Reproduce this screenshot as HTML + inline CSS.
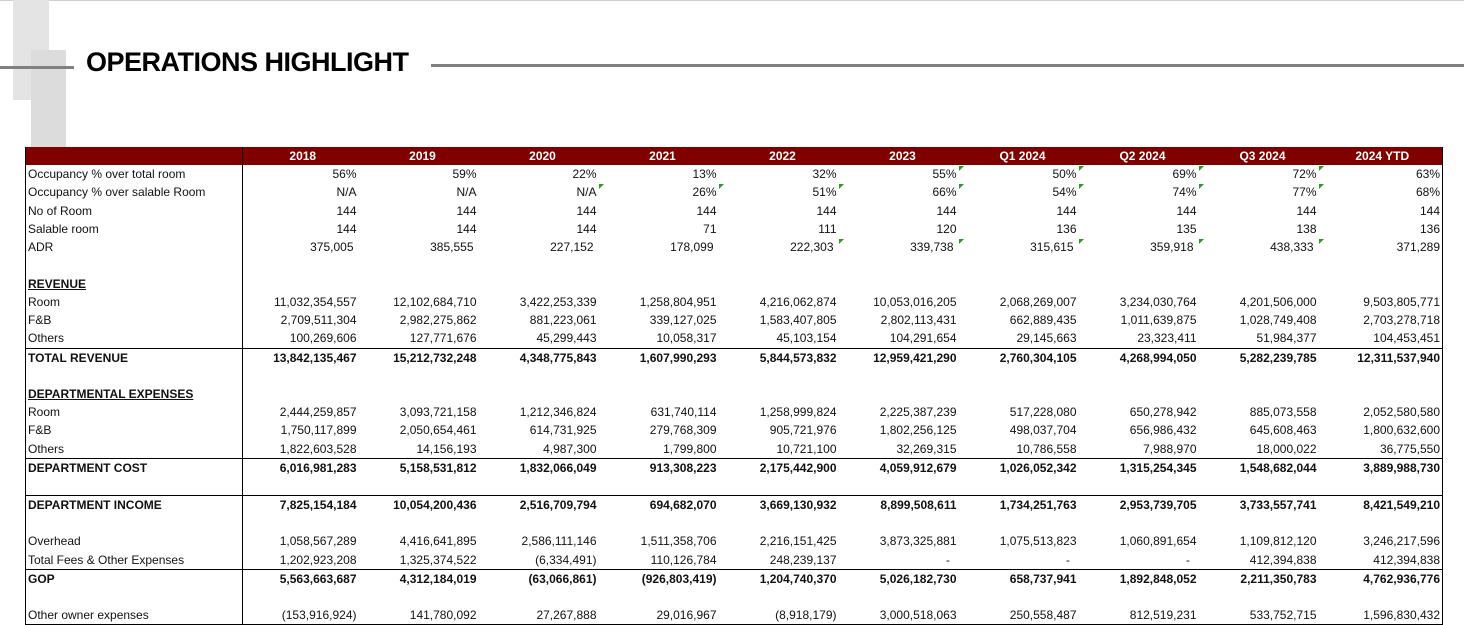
<!DOCTYPE html>
<html><head><meta charset="utf-8"><style>
body{margin:0;width:1464px;height:625px;overflow:hidden;background:#fff;font-family:"Liberation Sans",Arial,sans-serif;position:relative}
.g{position:absolute;background:#e4e4e4}
.ln{position:absolute;background:#808080}
h1{position:absolute;left:86px;top:47px;margin:0;font-size:27px;font-weight:bold;letter-spacing:-0.5px;color:#000}
table{position:absolute;left:25px;top:147px;border-collapse:collapse;table-layout:fixed;width:1418px;font-size:12px}
td{height:18.25px;padding:0 6px 0 0;text-align:right;white-space:nowrap;line-height:14px;vertical-align:middle;position:relative;color:#111}
td:first-child{text-align:left;padding-left:2px;border-left:1.5px solid #000;border-right:1.5px solid #000}
td:last-child{border-right:1.5px solid #000;padding-right:2px}
tr.h td{background:#800000;color:#fff;font-weight:bold;text-align:center;height:18px;padding:0}
tr.h td:first-child{border-right:1.5px solid #000}
tr.b td{font-weight:bold}
tr.t td{border-top:1.5px solid #000;height:18px}
tr.last td{border-bottom:1.5px solid #000}
u{font-weight:bold}
.tr::after{content:"";position:absolute;right:-1px;top:1px;border-top:5px solid #2a9a2a;border-right:5px solid transparent}
</style></head><body>
<div style="position:absolute;left:0;top:0;width:1464px;height:1px;background:#d0d0d0"></div>
<div class="g" style="left:13px;top:0;width:36px;height:100px"></div>
<div class="g" style="left:31px;top:50px;width:35px;height:97px;background:#dcdcdc"></div>
<div class="ln" style="left:0;top:66px;width:74px;height:3px"></div>
<div class="ln" style="left:431px;top:64px;width:1033px;height:3px"></div>
<h1>OPERATIONS HIGHLIGHT</h1>
<table>
<colgroup><col style="width:217px"><col span="10" style="width:120px"></colgroup>
<tr class="h"><td></td><td>2018</td><td>2019</td><td>2020</td><td>2021</td><td>2022</td><td>2023</td><td>Q1 2024</td><td>Q2 2024</td><td>Q3 2024</td><td>2024 YTD</td></tr>
<tr><td>Occupancy % over total room</td><td>56%</td><td>59%</td><td>22%</td><td>13%</td><td>32%</td><td class="tr">55%</td><td class="tr">50%</td><td class="tr">69%</td><td class="tr">72%</td><td>63%</td></tr>
<tr><td>Occupancy % over salable Room</td><td>N/A</td><td>N/A</td><td class="tr">N/A</td><td class="tr">26%</td><td class="tr">51%</td><td class="tr">66%</td><td class="tr">54%</td><td class="tr">74%</td><td class="tr">77%</td><td>68%</td></tr>
<tr><td>No of Room</td><td>144</td><td>144</td><td>144</td><td>144</td><td>144</td><td>144</td><td>144</td><td>144</td><td>144</td><td>144</td></tr>
<tr><td>Salable room</td><td>144</td><td>144</td><td>144</td><td>71</td><td>111</td><td>120</td><td>136</td><td>135</td><td>138</td><td>136</td></tr>
<tr><td>ADR</td><td style="padding-right:9px">375,005</td><td style="padding-right:9px">385,555</td><td style="padding-right:9px">227,152</td><td style="padding-right:9px">178,099</td><td class="tr" style="padding-right:9px">222,303</td><td class="tr" style="padding-right:9px">339,738</td><td class="tr" style="padding-right:9px">315,615</td><td class="tr" style="padding-right:9px">359,918</td><td class="tr" style="padding-right:9px">438,333</td><td>371,289</td></tr>
<tr><td></td><td></td><td></td><td></td><td></td><td></td><td></td><td></td><td></td><td></td><td></td></tr>
<tr><td><u>REVENUE</u></td><td></td><td></td><td></td><td></td><td></td><td></td><td></td><td></td><td></td><td></td></tr>
<tr><td>Room</td><td>11,032,354,557</td><td>12,102,684,710</td><td>3,422,253,339</td><td>1,258,804,951</td><td>4,216,062,874</td><td>10,053,016,205</td><td>2,068,269,007</td><td>3,234,030,764</td><td>4,201,506,000</td><td>9,503,805,771</td></tr>
<tr><td>F&amp;B</td><td>2,709,511,304</td><td>2,982,275,862</td><td>881,223,061</td><td>339,127,025</td><td>1,583,407,805</td><td>2,802,113,431</td><td>662,889,435</td><td>1,011,639,875</td><td>1,028,749,408</td><td>2,703,278,718</td></tr>
<tr><td>Others</td><td>100,269,606</td><td>127,771,676</td><td>45,299,443</td><td>10,058,317</td><td>45,103,154</td><td>104,291,654</td><td>29,145,663</td><td>23,323,411</td><td>51,984,377</td><td>104,453,451</td></tr>
<tr class="b t"><td>TOTAL REVENUE</td><td>13,842,135,467</td><td>15,212,732,248</td><td>4,348,775,843</td><td>1,607,990,293</td><td>5,844,573,832</td><td>12,959,421,290</td><td>2,760,304,105</td><td>4,268,994,050</td><td>5,282,239,785</td><td>12,311,537,940</td></tr>
<tr><td></td><td></td><td></td><td></td><td></td><td></td><td></td><td></td><td></td><td></td><td></td></tr>
<tr><td><u>DEPARTMENTAL EXPENSES</u></td><td></td><td></td><td></td><td></td><td></td><td></td><td></td><td></td><td></td><td></td></tr>
<tr><td>Room</td><td>2,444,259,857</td><td>3,093,721,158</td><td>1,212,346,824</td><td>631,740,114</td><td>1,258,999,824</td><td>2,225,387,239</td><td>517,228,080</td><td>650,278,942</td><td>885,073,558</td><td>2,052,580,580</td></tr>
<tr><td>F&amp;B</td><td>1,750,117,899</td><td>2,050,654,461</td><td>614,731,925</td><td>279,768,309</td><td>905,721,976</td><td>1,802,256,125</td><td>498,037,704</td><td>656,986,432</td><td>645,608,463</td><td>1,800,632,600</td></tr>
<tr><td>Others</td><td>1,822,603,528</td><td>14,156,193</td><td>4,987,300</td><td>1,799,800</td><td>10,721,100</td><td>32,269,315</td><td>10,786,558</td><td>7,988,970</td><td>18,000,022</td><td>36,775,550</td></tr>
<tr class="b t"><td>DEPARTMENT COST</td><td>6,016,981,283</td><td>5,158,531,812</td><td>1,832,066,049</td><td>913,308,223</td><td>2,175,442,900</td><td>4,059,912,679</td><td>1,026,052,342</td><td>1,315,254,345</td><td>1,548,682,044</td><td>3,889,988,730</td></tr>
<tr><td></td><td></td><td></td><td></td><td></td><td></td><td></td><td></td><td></td><td></td><td></td></tr>
<tr class="b t"><td>DEPARTMENT INCOME</td><td>7,825,154,184</td><td>10,054,200,436</td><td>2,516,709,794</td><td>694,682,070</td><td>3,669,130,932</td><td>8,899,508,611</td><td>1,734,251,763</td><td>2,953,739,705</td><td>3,733,557,741</td><td>8,421,549,210</td></tr>
<tr><td></td><td></td><td></td><td></td><td></td><td></td><td></td><td></td><td></td><td></td><td></td></tr>
<tr><td>Overhead</td><td>1,058,567,289</td><td>4,416,641,895</td><td>2,586,111,146</td><td>1,511,358,706</td><td>2,216,151,425</td><td>3,873,325,881</td><td>1,075,513,823</td><td>1,060,891,654</td><td>1,109,812,120</td><td>3,246,217,596</td></tr>
<tr><td>Total Fees &amp; Other Expenses</td><td>1,202,923,208</td><td>1,325,374,522</td><td>(6,334,491)</td><td>110,126,784</td><td>248,239,137</td><td>-&nbsp;&nbsp;</td><td>-&nbsp;&nbsp;</td><td>-&nbsp;&nbsp;</td><td>412,394,838</td><td>412,394,838</td></tr>
<tr class="b t"><td>GOP</td><td>5,563,663,687</td><td>4,312,184,019</td><td>(63,066,861)</td><td>(926,803,419)</td><td>1,204,740,370</td><td>5,026,182,730</td><td>658,737,941</td><td>1,892,848,052</td><td>2,211,350,783</td><td>4,762,936,776</td></tr>
<tr><td></td><td></td><td></td><td></td><td></td><td></td><td></td><td></td><td></td><td></td><td></td></tr>
<tr class="last"><td>Other owner expenses</td><td>(153,916,924)</td><td>141,780,092</td><td>27,267,888</td><td>29,016,967</td><td>(8,918,179)</td><td>3,000,518,063</td><td>250,558,487</td><td>812,519,231</td><td>533,752,715</td><td>1,596,830,432</td></tr>
</table>
</body></html>
